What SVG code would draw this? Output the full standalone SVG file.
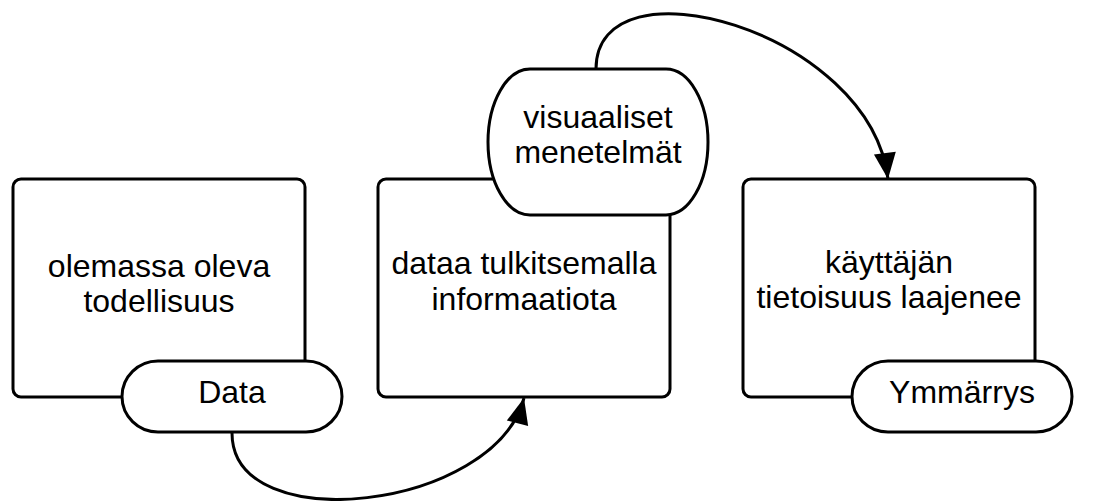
<svg xmlns="http://www.w3.org/2000/svg" width="1100" height="501" viewBox="0 0 1100 501">
  <style>
    .box { fill: #ffffff; stroke: #000000; stroke-width: 3; }
    .pill { fill: #ffffff; stroke: #000000; stroke-width: 3; }
    .lbl { font-family: "Liberation Sans", Arial, sans-serif; font-size: 32px; fill: #000000; text-anchor: middle; }
    .edge { fill: none; stroke: #000000; stroke-width: 3; }
  </style>
  <defs>
    <marker id="arrow" markerUnits="userSpaceOnUse" markerWidth="30" markerHeight="26" viewBox="-27 -13 30 26" refX="0" refY="0" orient="auto">
      <path d="M0,0 L-26,-11 L-26,11 Z" fill="#000000"/>
    </marker>
  </defs>

  <!-- process boxes -->
  <g id="reality">
    <rect class="box" x="13" y="179" width="292" height="218" rx="8"/>
    <text class="lbl" x="159" y="277">olemassa oleva</text>
    <text class="lbl" x="159" y="312">todellisuus</text>
  </g>
  <g id="information">
    <rect class="box" x="378" y="179" width="292" height="218" rx="8"/>
    <text class="lbl" x="524" y="274">dataa tulkitsemalla</text>
    <text class="lbl" x="524" y="310">informaatiota</text>
  </g>
  <g id="awareness">
    <rect class="box" x="743" y="179" width="292" height="218" rx="8"/>
    <text class="lbl" x="889" y="273">käyttäjän</text>
    <text class="lbl" x="889" y="308">tietoisuus laajenee</text>
  </g>

  <!-- terminator tags -->
  <g id="data">
    <rect class="pill" x="122" y="361" width="220" height="71" rx="36" ry="35.5"/>
    <text class="lbl" x="232" y="403">Data</text>
  </g>
  <g id="methods">
    <rect class="pill" x="488" y="69" width="220" height="146" rx="42" ry="73"/>
    <text class="lbl" x="598" y="128">visuaaliset</text>
    <text class="lbl" x="598" y="163">menetelmät</text>
  </g>
  <g id="understanding">
    <rect class="pill" x="852" y="361" width="220" height="71" rx="36" ry="35.5"/>
    <text class="lbl" x="962" y="403">Ymmärrys</text>
  </g>

  <!-- connectors -->
  <g id="connectors">
    <path class="edge" d="M232,433 C232,540 495,510 524,398" marker-end="url(#arrow)"/>
    <path class="edge" d="M596,69 C596,-45 870,30 888,179" marker-end="url(#arrow)"/>
  </g>
</svg>
